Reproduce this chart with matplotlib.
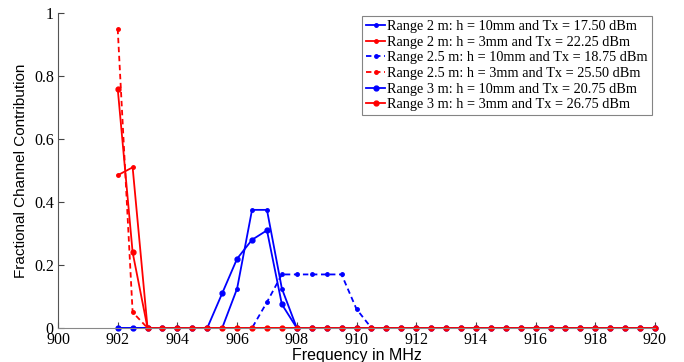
import matplotlib
matplotlib.use("Agg")
import matplotlib.pyplot as plt

# frequency grid (MHz)
freqs = [902 + 0.5 * i for i in range(37)]

z = [0.0] * 37

r2_h10 = list(z)
r2_h10[8:12] = [0.125, 0.375, 0.375, 0.125]
r2_h3 = list(z)
r2_h3[0:2] = [0.485, 0.51]
r25_h10 = list(z)
r25_h10[10:17] = [0.082, 0.17, 0.17, 0.17, 0.17, 0.17, 0.06]
r25_h3 = list(z)
r25_h3[0:2] = [0.95, 0.05]
r3_h10 = list(z)
r3_h10[7:12] = [0.11, 0.22, 0.28, 0.31, 0.075]
r3_h3 = list(z)
r3_h3[0:2] = [0.76, 0.24]

labels = ["Range 2 m: h = 10mm and Tx = 17.50 dBm",
          "Range 2 m: h = 3mm and Tx = 22.25 dBm",
          "Range 2.5 m: h = 10mm and Tx = 18.75 dBm",
          "Range 2.5 m: h = 3mm and Tx = 25.50 dBm",
          "Range 3 m: h = 10mm and Tx = 20.75 dBm",
          "Range 3 m: h = 3mm and Tx = 26.75 dBm"]

series = [r2_h10, r2_h3, r25_h10, r25_h3, r3_h10, r3_h3]
colors = ["#0000ff", "#ff0000", "#0000ff", "#ff0000", "#0000ff", "#ff0000"]
styles = ["-", "-", (0, (3, 2)), (0, (3, 2)), "-", "-"]
markers = [".", ".", ".", ".", "o", "o"]
msizes = [5, 5, 5, 5, 3.5, 3.5]

serif = "Liberation Serif"
sans = "Liberation Sans"

fig = plt.figure(figsize=(6.84, 3.62), dpi=100)
ax = fig.add_axes([0.0848, 0.094, 0.8728, 0.870])

for vals, c, ls, m, ms, lab in zip(series, colors, styles, markers, msizes, labels):
    ax.plot(freqs, vals, color=c, linestyle=ls, marker=m, markersize=ms,
            linewidth=1.3, label=lab, clip_on=False)

ax.set_xlim(900, 920)
ax.set_ylim(0, 1)
ax.set_xticks(range(900, 921, 2))
ax.set_yticks([0, 0.2, 0.4, 0.6, 0.8, 1])
ax.set_yticklabels(["0", "0.2", "0.4", "0.6", "0.8", "1"])
for lbl in ax.get_xticklabels() + ax.get_yticklabels():
    lbl.set_fontfamily(serif)
    lbl.set_fontsize(11.5)
ax.tick_params(direction="in", length=4, width=0.8, colors="#444444", labelcolor="black", pad=3)

ax.spines["top"].set_visible(False)
ax.spines["right"].set_visible(False)
ax.spines["left"].set_color("#555555")
ax.spines["bottom"].set_color("#888888")

ax.set_xlabel("Frequency in MHz", family=sans, fontsize=11.5, labelpad=0)
ax.set_ylabel("Fractional Channel Contribution", family=sans, fontsize=11, labelpad=4)

leg = ax.legend(loc="upper right", bbox_to_anchor=(1.0, 1.0), prop={"family": serif, "size": 10.3},
                frameon=True, fancybox=False, labelspacing=0.18, handlelength=1.3,
                handletextpad=0.15, borderpad=0.3, borderaxespad=0.2)
leg.get_frame().set_edgecolor("#666666")
leg.get_frame().set_linewidth(0.8)

fig.savefig("out.png", dpi=100)
